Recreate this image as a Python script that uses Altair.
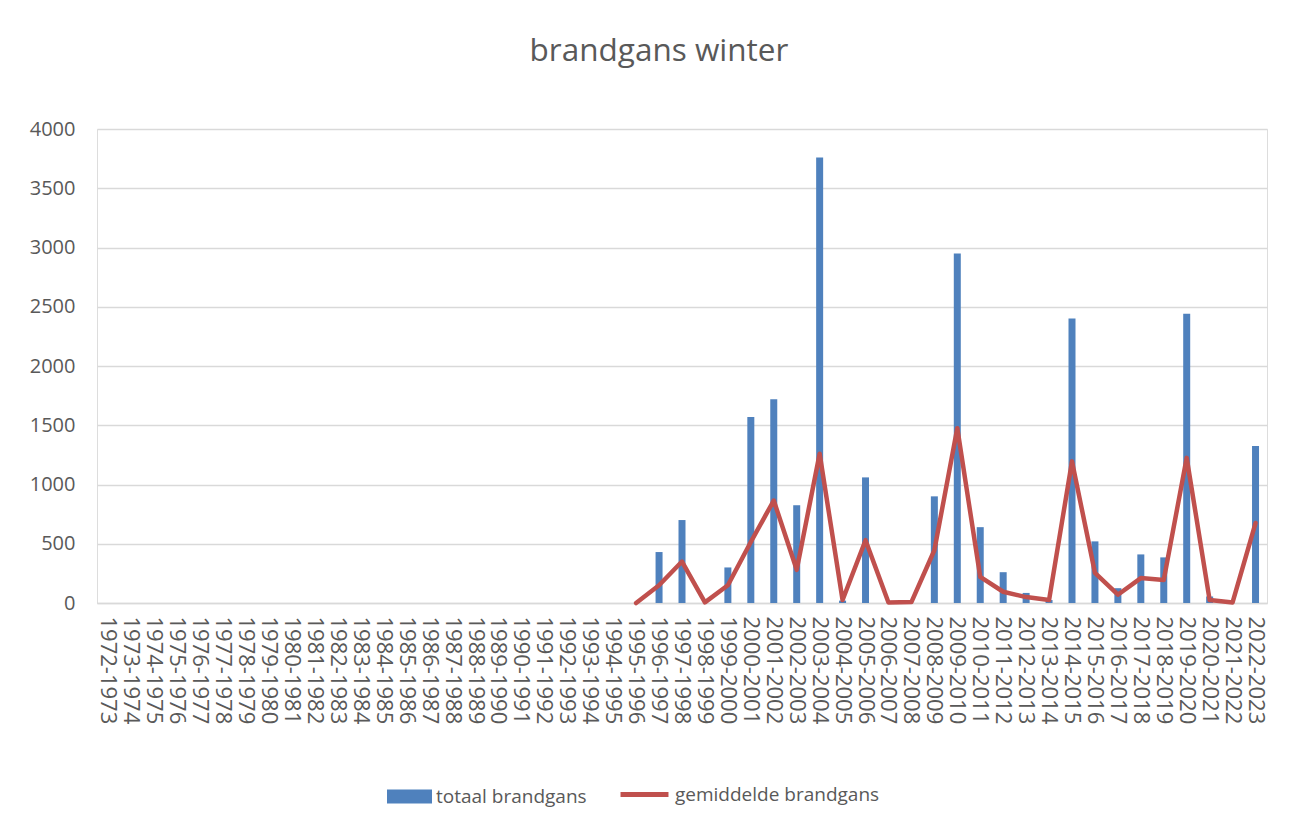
import altair as alt
import pandas as pd

seasons = [f"{y}-{y+1}" for y in range(1972, 2023)]

# totaal brandgans (None = no value), 1972-1973 .. 2022-2023
totaal = [None] * 23 + [
    0,     # 1995-1996
    430,   # 1996-1997
    700,   # 1997-1998
    0,     # 1998-1999
    300,   # 1999-2000
    1570,  # 2000-2001
    1720,  # 2001-2002
    825,   # 2002-2003
    3760,  # 2003-2004
    20,    # 2004-2005
    1060,  # 2005-2006
    0,     # 2006-2007
    0,     # 2007-2008
    900,   # 2008-2009
    2950,  # 2009-2010
    640,   # 2010-2011
    260,   # 2011-2012
    85,    # 2012-2013
    25,    # 2013-2014
    2400,  # 2014-2015
    520,   # 2015-2016
    125,   # 2016-2017
    410,   # 2017-2018
    385,   # 2018-2019
    2440,  # 2019-2020
    55,    # 2020-2021
    0,     # 2021-2022
    1325,  # 2022-2023
]

gemiddelde = [None] * 23 + [
    0, 150, 350, 5, 150, 515, 865, 280, 1260, 25, 530, 5, 8, 445, 1475,
    220, 95, 50, 25, 1195, 255, 70, 210, 195, 1225, 25, 5, 675,
]

df = pd.DataFrame({
    "seizoen": seasons,
    "totaal": totaal,
    "gemiddelde": gemiddelde,
    "s1": "totaal brandgans",
    "s2": "gemiddelde brandgans",
})

FONT = "Open Sans"
GREY = "#595959"

x = alt.X(
    "seizoen:N",
    sort=seasons,
    title=None,
    scale=alt.Scale(paddingInner=0, paddingOuter=0),
    axis=alt.Axis(
        labelAngle=90, labelAlign="left", labelBaseline="middle",
        labelPadding=13, labelFontSize=22, labelColor=GREY, labelFont=FONT,
        ticks=False, domainColor="#D9D9D9", domainWidth=1.3, grid=False,
        labelOverlap=False,
    ),
)

y_axis = alt.Axis(
    values=list(range(0, 4001, 500)), format="d", ticks=False, domain=False,
    labelPadding=22, labelFontSize=20, labelColor=GREY, labelFont=FONT,
    gridColor="#D9D9D9", gridWidth=1.3, minExtent=70, maxExtent=70,
)

bars = alt.Chart(df).mark_bar(size=7).encode(
    x=x,
    y=alt.Y("totaal:Q", title=None, scale=alt.Scale(domain=[0, 4000]), axis=y_axis),
    color=alt.Color(
        "s1:N",
        scale=alt.Scale(domain=["totaal brandgans"], range=["#4F81BD"]),
        legend=alt.Legend(
            title=None, orient="none", legendX=290, legendY=645,
            symbolType="M-1,-0.31H1V0.31H-1Z", symbolSize=2025,
            symbolStrokeWidth=0, symbolOpacity=1,
            labelFontSize=19, labelColor=GREY, labelFont=FONT, padding=0,
            labelOffset=4, labelLimit=400,
        ),
    ),
)

line = alt.Chart(df).mark_line(strokeWidth=4.5, strokeCap="round", strokeJoin="round").encode(
    x=x,
    y=alt.Y("gemiddelde:Q"),
    stroke=alt.Stroke(
        "s2:N",
        scale=alt.Scale(domain=["gemiddelde brandgans"], range=["#C0504D"]),
        legend=alt.Legend(
            title=None, orient="none", legendX=521, legendY=639,
            symbolType="stroke", symbolSize=2300, symbolStrokeWidth=5,
            labelFontSize=19, labelColor=GREY, labelFont=FONT, padding=0,
            labelOffset=4, labelLimit=400,
        ),
    ),
)

chart = alt.layer(bars, line).properties(
    width=1170,
    height=474,
    title=alt.TitleParams(
        "brandgans winter", fontSize=31.5, font=FONT, fontWeight="normal",
        color=GREY, anchor="middle", dx=-23, offset=52,
    ),
    padding={"left": 19, "top": 27, "right": 20, "bottom": 20},
).configure_view(stroke=None).configure(background="white")

chart.save("out.html", embed_options={"renderer": "svg", "actions": False})
